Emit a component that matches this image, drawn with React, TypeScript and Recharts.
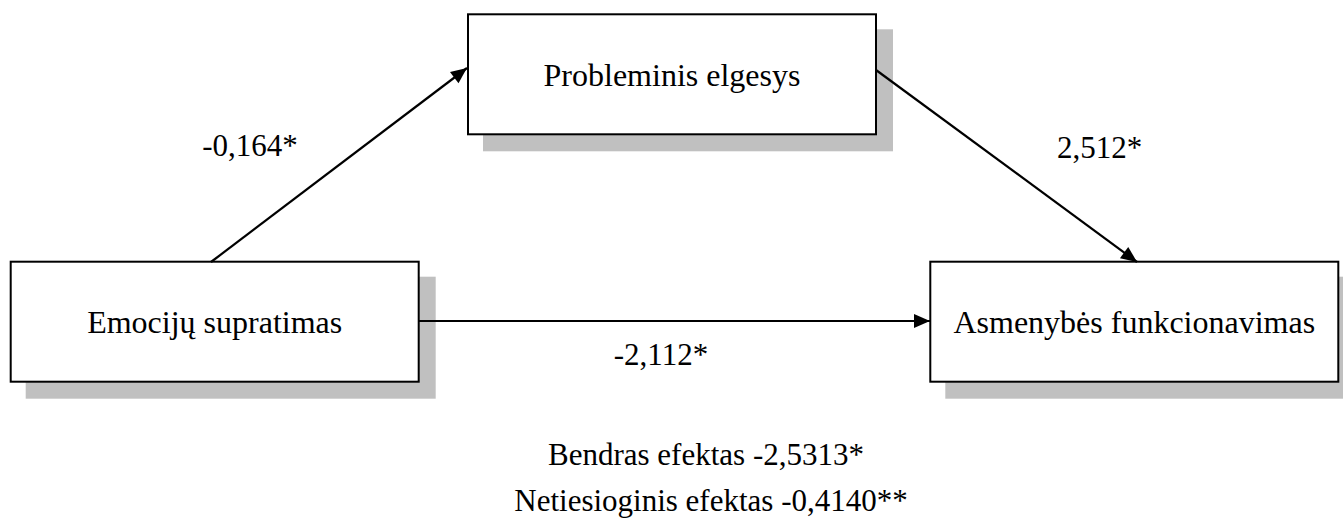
import React from 'react';
import { ScatterChart, Scatter, XAxis, YAxis } from 'recharts';

const W = 1343;
const H = 529;

// variables of the mediation model (box centres in diagram units)
const nodeLabels = ['Emocijų supratimas', 'Probleminis elgesys', 'Asmenybės funkcionavimas'];
const nodeX = [214.7, 672, 1134.3];
const nodeY = [321.7, 74.3, 321.7];

// paths a, b, c' : start and end of each arrow
const pathFromX = [211, 876, 418];
const pathFromY = [262, 70, 321];
const pathToX = [467, 1137, 930];
const pathToY = [68, 262, 321];

// path coefficients
const coefLabels = ['-0,164*', '2,512*', '-2,112*'];
const coefX = [250, 1099.5, 661];
const coefY = [156, 158, 365];

// total / indirect effect
const effectLabels = ['Bendras efektas -2,5313*', 'Netiesioginis efektas -0,4140**'];
const effectX = [706, 711];
const effectY = [465, 511];

const BOX_W = 408;
const BOX_H = 120;
const SHADOW = 16;
const FONT = 'Liberation Serif';

const nodes = nodeLabels.map((name, i) => ({ name, x: nodeX[i], y: nodeY[i] }));
const coefs = coefLabels.map((name, i) => ({ name, x: coefX[i], y: coefY[i] }));
const effects = effectLabels.map((name, i) => ({ name, x: effectX[i], y: effectY[i] }));
const paths = pathFromX.map((_, i) => [
  { x: pathFromX[i], y: pathFromY[i], end: false, i },
  { x: pathToX[i], y: pathToY[i], end: true, i },
]);

function NodeBox(props: any) {
  const { cx, cy, payload } = props;
  const x = cx - BOX_W / 2;
  const y = cy - BOX_H / 2;
  return (
    <g>
      <rect x={x - 1 + SHADOW} y={y - 1 + SHADOW} width={BOX_W + 2} height={BOX_H + 2} fill="#C0C0C0" />
      <rect x={x} y={y} width={BOX_W} height={BOX_H} fill="#FFFFFF" stroke="#000000" strokeWidth={2} />
      <text x={cx} y={cy + 11.5} textAnchor="middle" style={{ fontFamily: FONT, fontSize: 32 }} fill="#000">
        {payload.name}
      </text>
    </g>
  );
}

function ArrowHead(props: any) {
  const { cx, cy, payload } = props;
  if (!payload.end) return <g />;
  const i = payload.i;
  const ang = Math.atan2(pathToY[i] - pathFromY[i], pathToX[i] - pathFromX[i]);
  const len = 16;
  const half = 7;
  const bx = cx - len * Math.cos(ang);
  const by = cy - len * Math.sin(ang);
  const nx = -Math.sin(ang) * half;
  const ny = Math.cos(ang) * half;
  return (
    <polygon
      points={`${cx},${cy} ${bx + nx},${by + ny} ${bx - nx},${by - ny}`}
      fill="#000"
    />
  );
}

function TextMark(props: any) {
  const { cx, cy, payload } = props;
  return (
    <text x={cx} y={cy} textAnchor="middle" style={{ fontFamily: FONT, fontSize: 31 }} fill="#000">
      {payload.name}
    </text>
  );
}

export default function App() {
  return (
    <div style={{ position: 'absolute', left: 0, top: 0, width: W, height: H, background: '#fff' }}>
      <ScatterChart width={W} height={H} margin={{ top: 0, right: 0, bottom: 0, left: 0 }}>
        <XAxis type="number" dataKey="x" domain={[0, W]} hide />
        <YAxis type="number" dataKey="y" domain={[0, H]} reversed hide />
        <Scatter data={nodes} shape={NodeBox} isAnimationActive={false} />
        {paths.map((p, i) => (
          <Scatter
            key={i}
            data={p}
            fill="#000"
            stroke="#000"
            strokeWidth={2.2}
            line={{ stroke: '#000', strokeWidth: 2.2 }}
            shape={ArrowHead}
            isAnimationActive={false}
          />
        ))}
        <Scatter data={coefs} shape={TextMark} isAnimationActive={false} />
        <Scatter data={effects} shape={TextMark} isAnimationActive={false} />
      </ScatterChart>
    </div>
  );
}
